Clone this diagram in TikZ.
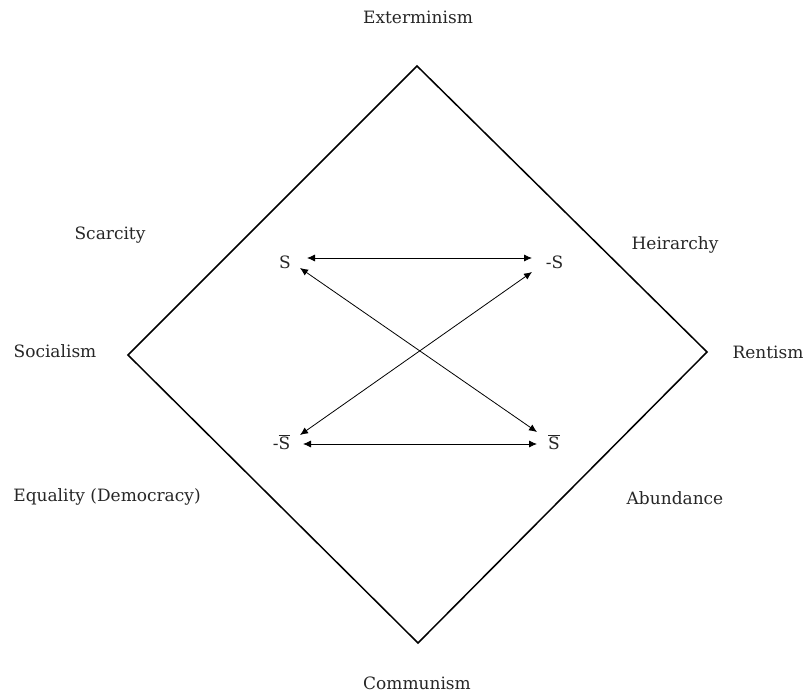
\documentclass[tikz,border=0pt]{standalone}
\usepackage{fontspec}
\setmainfont{DejaVu Serif}
\usetikzlibrary{arrows.meta}
\tikzset{
  lbl/.style={font=\fontsize{17}{20}\selectfont, inner sep=0pt, text=black!85},
  sym/.style={font=\fontsize{17}{20}\selectfont, inner sep=0pt, anchor=base, text=black!85},
  arr/.style={{Latex[length=8pt,width=7pt]}-{Latex[length=8pt,width=7pt]}, line width=0.8pt},
  frame/.style={line width=1.5pt}
}
\begin{document}
\begin{tikzpicture}[x=1pt,y=-1pt]
\useasboundingbox (0,0) rectangle (805,692);
\coordinate (T) at (417,66);
\coordinate (L) at (128,355);
\coordinate (B) at (418,643);
\coordinate (R) at (707,352);
\draw[frame] (T) -- (R) -- (B) -- (L) -- cycle;

\node[lbl] (ext) at (418,17) {Exterminism};
\node[lbl] (com) at (417,683) {Communism};
\node[lbl] (soc) at (55,351) {Socialism};
\node[lbl] (ren) at (768,352) {Rentism};
\node[lbl] (sca) at (110,235) {Scarcity};
\node[lbl] (hei) at (675,245) {Heirarchy};
\node[lbl] (equ) at (107,497) {Equality (Democracy)};
\node[lbl] (abu) at (675,498) {Abundance};

\node[sym] (S) at (285,269) {S};
\node[sym] (mS) at (554.5,269) {-S};
\node[sym] (mSb) at (281.5,449) {-$\overline{\hbox{S}}$};
\node[sym] (Sb) at (554,449) {$\overline{\hbox{S}}$};

\draw[arr] ([shift={(22,-11)}]S.base) -- ([shift={(-22.5,-11)}]mS.base);
\draw[arr] ([shift={(21.5,-5)}]mSb.base) -- ([shift={(-17,-5)}]Sb.base);
\draw[arr] ([shift={(15,-1)}]S.base) -- ([shift={(-17,-17)}]Sb.base);
\draw[arr] ([shift={(-22.5,3)}]mS.base) -- ([shift={(18.5,-14)}]mSb.base);
\end{tikzpicture}
\end{document}
